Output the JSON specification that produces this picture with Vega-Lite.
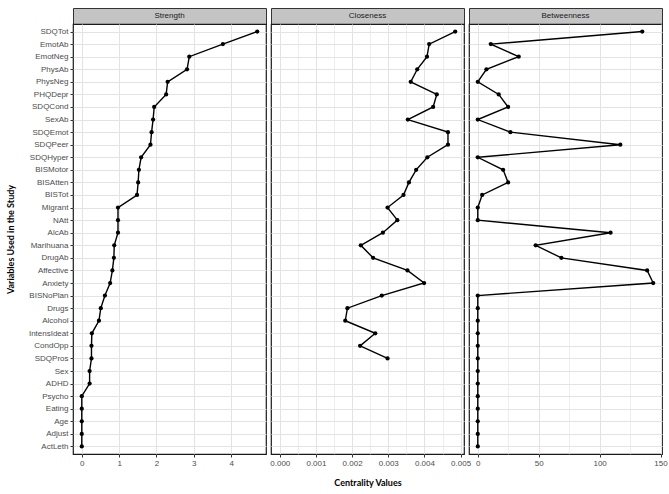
{
  "$schema": "https://vega.github.io/schema/vega-lite/v6.json",
  "background": "white",
  "padding": {"left": 5, "top": 7, "right": 0, "bottom": 5},
  "datasets": {
    "cent": [
      {"v": "SDQTot", "m": "Strength", "x": 4.70},
      {"v": "EmotAb", "m": "Strength", "x": 3.78},
      {"v": "EmotNeg", "m": "Strength", "x": 2.88},
      {"v": "PhysAb", "m": "Strength", "x": 2.82},
      {"v": "PhysNeg", "m": "Strength", "x": 2.30},
      {"v": "PHQDepr", "m": "Strength", "x": 2.26},
      {"v": "SDQCond", "m": "Strength", "x": 1.94},
      {"v": "SexAb", "m": "Strength", "x": 1.91},
      {"v": "SDQEmot", "m": "Strength", "x": 1.87},
      {"v": "SDQPeer", "m": "Strength", "x": 1.84},
      {"v": "SDQHyper", "m": "Strength", "x": 1.59},
      {"v": "BISMotor", "m": "Strength", "x": 1.53},
      {"v": "BISAtten", "m": "Strength", "x": 1.51},
      {"v": "BISTot", "m": "Strength", "x": 1.48},
      {"v": "Migrant", "m": "Strength", "x": 0.97},
      {"v": "NAtt", "m": "Strength", "x": 0.97},
      {"v": "AlcAb", "m": "Strength", "x": 0.97},
      {"v": "Marihuana", "m": "Strength", "x": 0.87},
      {"v": "DrugAb", "m": "Strength", "x": 0.86},
      {"v": "Affective", "m": "Strength", "x": 0.82},
      {"v": "Anxiety", "m": "Strength", "x": 0.76},
      {"v": "BISNoPlan", "m": "Strength", "x": 0.62},
      {"v": "Drugs", "m": "Strength", "x": 0.51},
      {"v": "Alcohol", "m": "Strength", "x": 0.46},
      {"v": "IntensIdeat", "m": "Strength", "x": 0.27},
      {"v": "CondOpp", "m": "Strength", "x": 0.26},
      {"v": "SDQPros", "m": "Strength", "x": 0.26},
      {"v": "Sex", "m": "Strength", "x": 0.21},
      {"v": "ADHD", "m": "Strength", "x": 0.21},
      {"v": "Psycho", "m": "Strength", "x": 0},
      {"v": "Eating", "m": "Strength", "x": 0},
      {"v": "Age", "m": "Strength", "x": 0},
      {"v": "Adjust", "m": "Strength", "x": 0},
      {"v": "ActLeth", "m": "Strength", "x": 0},
      {"v": "SDQTot", "m": "Closeness", "x": 0.00485},
      {"v": "EmotAb", "m": "Closeness", "x": 0.00413},
      {"v": "EmotNeg", "m": "Closeness", "x": 0.00407},
      {"v": "PhysAb", "m": "Closeness", "x": 0.00380},
      {"v": "PhysNeg", "m": "Closeness", "x": 0.00362},
      {"v": "PHQDepr", "m": "Closeness", "x": 0.00434},
      {"v": "SDQCond", "m": "Closeness", "x": 0.00424},
      {"v": "SexAb", "m": "Closeness", "x": 0.00354},
      {"v": "SDQEmot", "m": "Closeness", "x": 0.00465},
      {"v": "SDQPeer", "m": "Closeness", "x": 0.00465},
      {"v": "SDQHyper", "m": "Closeness", "x": 0.00408},
      {"v": "BISMotor", "m": "Closeness", "x": 0.00377},
      {"v": "BISAtten", "m": "Closeness", "x": 0.00357},
      {"v": "BISTot", "m": "Closeness", "x": 0.00342},
      {"v": "Migrant", "m": "Closeness", "x": 0.00298},
      {"v": "NAtt", "m": "Closeness", "x": 0.00325},
      {"v": "AlcAb", "m": "Closeness", "x": 0.00285},
      {"v": "Marihuana", "m": "Closeness", "x": 0.00224},
      {"v": "DrugAb", "m": "Closeness", "x": 0.00258},
      {"v": "Affective", "m": "Closeness", "x": 0.00353},
      {"v": "Anxiety", "m": "Closeness", "x": 0.00399},
      {"v": "BISNoPlan", "m": "Closeness", "x": 0.00282},
      {"v": "Drugs", "m": "Closeness", "x": 0.00187},
      {"v": "Alcohol", "m": "Closeness", "x": 0.00181},
      {"v": "IntensIdeat", "m": "Closeness", "x": 0.00264},
      {"v": "CondOpp", "m": "Closeness", "x": 0.00222},
      {"v": "SDQPros", "m": "Closeness", "x": 0.00298},
      {"v": "SDQTot", "m": "Betweenness", "x": 135},
      {"v": "EmotAb", "m": "Betweenness", "x": 10.7},
      {"v": "EmotNeg", "m": "Betweenness", "x": 33.6},
      {"v": "PhysAb", "m": "Betweenness", "x": 7.1},
      {"v": "PhysNeg", "m": "Betweenness", "x": 0},
      {"v": "PHQDepr", "m": "Betweenness", "x": 17.2},
      {"v": "SDQCond", "m": "Betweenness", "x": 24.9},
      {"v": "SexAb", "m": "Betweenness", "x": 0},
      {"v": "SDQEmot", "m": "Betweenness", "x": 26.8},
      {"v": "SDQPeer", "m": "Betweenness", "x": 117},
      {"v": "SDQHyper", "m": "Betweenness", "x": 0},
      {"v": "BISMotor", "m": "Betweenness", "x": 20.8},
      {"v": "BISAtten", "m": "Betweenness", "x": 24.9},
      {"v": "BISTot", "m": "Betweenness", "x": 3.6},
      {"v": "Migrant", "m": "Betweenness", "x": 0},
      {"v": "NAtt", "m": "Betweenness", "x": 0},
      {"v": "AlcAb", "m": "Betweenness", "x": 109},
      {"v": "Marihuana", "m": "Betweenness", "x": 47.5},
      {"v": "DrugAb", "m": "Betweenness", "x": 68.6},
      {"v": "Affective", "m": "Betweenness", "x": 139},
      {"v": "Anxiety", "m": "Betweenness", "x": 144},
      {"v": "BISNoPlan", "m": "Betweenness", "x": 0},
      {"v": "Drugs", "m": "Betweenness", "x": 0},
      {"v": "Alcohol", "m": "Betweenness", "x": 0},
      {"v": "IntensIdeat", "m": "Betweenness", "x": 0},
      {"v": "CondOpp", "m": "Betweenness", "x": 0},
      {"v": "SDQPros", "m": "Betweenness", "x": 0},
      {"v": "Sex", "m": "Betweenness", "x": 0},
      {"v": "ADHD", "m": "Betweenness", "x": 0},
      {"v": "Psycho", "m": "Betweenness", "x": 0},
      {"v": "Eating", "m": "Betweenness", "x": 0},
      {"v": "Age", "m": "Betweenness", "x": 0},
      {"v": "Adjust", "m": "Betweenness", "x": 0},
      {"v": "ActLeth", "m": "Betweenness", "x": 0}
    ]
  },
  "columns": 3,
  "spacing": {"row": 0, "column": 5},
  "bounds": "flush",
  "concat": [
    {
      "width": 193, "height": 16,
      "data": {"values": [{"p": "Strength"}]},
      "mark": {"type": "text", "font": "Liberation Sans", "fontSize": 8, "color": "#1a1a1a", "align": "center", "baseline": "middle"},
      "encoding": {"text": {"field": "p"}},
      "view": {"fill": "#c4c4c4", "stroke": "#333333", "strokeWidth": 1}
    },
    {
      "width": 193, "height": 16,
      "data": {"values": [{"p": "Closeness"}]},
      "mark": {"type": "text", "font": "Liberation Sans", "fontSize": 8, "color": "#1a1a1a", "align": "center", "baseline": "middle"},
      "encoding": {"text": {"field": "p"}},
      "view": {"fill": "#c4c4c4", "stroke": "#333333", "strokeWidth": 1}
    },
    {
      "width": 193, "height": 16,
      "data": {"values": [{"p": "Betweenness"}]},
      "mark": {"type": "text", "font": "Liberation Sans", "fontSize": 8, "color": "#1a1a1a", "align": "center", "baseline": "middle"},
      "encoding": {"text": {"field": "p"}},
      "view": {"fill": "#c4c4c4", "stroke": "#333333", "strokeWidth": 1}
    },
    {
      "width": 193, "height": 430,
      "data": {"name": "cent"},
      "transform": [{"filter": "datum.m === 'Strength'"}],
      "view": {"stroke": "#1a1a1a", "strokeWidth": 1.2},
      "encoding": {
        "y": {"field": "v", "type": "ordinal",
          "sort": ["SDQTot","EmotAb","EmotNeg","PhysAb","PhysNeg","PHQDepr","SDQCond","SexAb","SDQEmot","SDQPeer","SDQHyper","BISMotor","BISAtten","BISTot","Migrant","NAtt","AlcAb","Marihuana","DrugAb","Affective","Anxiety","BISNoPlan","Drugs","Alcohol","IntensIdeat","CondOpp","SDQPros","Sex","ADHD","Psycho","Eating","Age","Adjust","ActLeth"],
          "scale": {"type": "point", "padding": 0.6},
          "axis": {"title": "Variables Used in the Study", "titleFont": "Lato", "titleFontWeight": "bold", "titleFontSize": 9, "titleColor": "#000000", "titlePadding": 13,
            "labelFont": "Liberation Sans", "labelFontSize": 8, "labelColor": "#4d4d4d", "labelPadding": 2,
            "tickColor": "#333333", "tickSize": 3, "domain": false, "grid": true, "gridColor": "#e3e3e3", "gridWidth": 1}},
        "x": {"field": "x", "type": "quantitative",
          "scale": {"domain": [-0.235, 4.935], "nice": false, "zero": false},
          "axis": {"title": null, "values": [0, 0.5, 1, 1.5, 2, 2.5, 3, 3.5, 4, 4.5], "format": "d",
            "labelExpr": "datum.value % 1 === 0 ? datum.label : ''",
            "labelFont": "Liberation Sans", "labelFontSize": 8, "labelColor": "#4d4d4d", "labelPadding": 2,
            "tickColor": "#333333", "tickSize": 3,
            "tickOpacity": {"condition": {"test": "datum.value % 1 !== 0", "value": 0}, "value": 1},
            "gridWidth": {"condition": {"test": "datum.value % 1 !== 0", "value": 0.6}, "value": 1},
            "domain": false, "grid": true, "gridColor": "#e3e3e3"}}
      },
      "layer": [
        {"mark": {"type": "line", "color": "#000000", "strokeWidth": 1.4}},
        {"mark": {"type": "point", "filled": true, "color": "#000000", "opacity": 1, "size": 18}}
      ]
    },
    {
      "width": 193, "height": 430,
      "data": {"name": "cent"},
      "transform": [{"filter": "datum.m === 'Closeness'"}],
      "view": {"stroke": "#1a1a1a", "strokeWidth": 1.2},
      "encoding": {
        "y": {"field": "v", "type": "ordinal",
          "sort": ["SDQTot","EmotAb","EmotNeg","PhysAb","PhysNeg","PHQDepr","SDQCond","SexAb","SDQEmot","SDQPeer","SDQHyper","BISMotor","BISAtten","BISTot","Migrant","NAtt","AlcAb","Marihuana","DrugAb","Affective","Anxiety","BISNoPlan","Drugs","Alcohol","IntensIdeat","CondOpp","SDQPros","Sex","ADHD","Psycho","Eating","Age","Adjust","ActLeth"],
          "scale": {"type": "point", "padding": 0.6, "domain": ["SDQTot","EmotAb","EmotNeg","PhysAb","PhysNeg","PHQDepr","SDQCond","SexAb","SDQEmot","SDQPeer","SDQHyper","BISMotor","BISAtten","BISTot","Migrant","NAtt","AlcAb","Marihuana","DrugAb","Affective","Anxiety","BISNoPlan","Drugs","Alcohol","IntensIdeat","CondOpp","SDQPros","Sex","ADHD","Psycho","Eating","Age","Adjust","ActLeth"]},
          "axis": {"title": null, "labels": false, "ticks": false, "domain": false, "grid": true, "gridColor": "#e3e3e3", "gridWidth": 1}},
        "x": {"field": "x", "type": "quantitative",
          "scale": {"domain": [-0.000243, 0.005093], "nice": false, "zero": false},
          "axis": {"title": "Centrality Values", "titleFont": "Lato", "titleFontWeight": "bold", "titleFontSize": 9, "titleColor": "#000000", "titlePadding": 11,
            "values": [0, 0.0005, 0.001, 0.0015, 0.002, 0.0025, 0.003, 0.0035, 0.004, 0.0045, 0.005], "format": ".3f",
            "labelExpr": "round(datum.value * 10000) % 10 === 0 ? datum.label : ''",
            "labelFont": "Liberation Sans", "labelFontSize": 8, "labelColor": "#4d4d4d", "labelPadding": 2,
            "tickColor": "#333333", "tickSize": 3,
            "tickOpacity": {"condition": {"test": "round(datum.value * 10000) % 10 !== 0", "value": 0}, "value": 1},
            "gridWidth": {"condition": {"test": "round(datum.value * 10000) % 10 !== 0", "value": 0.6}, "value": 1},
            "domain": false, "grid": true, "gridColor": "#e3e3e3"}}
      },
      "layer": [
        {"mark": {"type": "line", "color": "#000000", "strokeWidth": 1.4}},
        {"mark": {"type": "point", "filled": true, "color": "#000000", "opacity": 1, "size": 18}}
      ]
    },
    {
      "width": 193, "height": 430,
      "data": {"name": "cent"},
      "transform": [{"filter": "datum.m === 'Betweenness'"}],
      "view": {"stroke": "#1a1a1a", "strokeWidth": 1.2},
      "encoding": {
        "y": {"field": "v", "type": "ordinal",
          "sort": ["SDQTot","EmotAb","EmotNeg","PhysAb","PhysNeg","PHQDepr","SDQCond","SexAb","SDQEmot","SDQPeer","SDQHyper","BISMotor","BISAtten","BISTot","Migrant","NAtt","AlcAb","Marihuana","DrugAb","Affective","Anxiety","BISNoPlan","Drugs","Alcohol","IntensIdeat","CondOpp","SDQPros","Sex","ADHD","Psycho","Eating","Age","Adjust","ActLeth"],
          "scale": {"type": "point", "padding": 0.6},
          "axis": {"title": null, "labels": false, "ticks": false, "domain": false, "grid": true, "gridColor": "#e3e3e3", "gridWidth": 1}},
        "x": {"field": "x", "type": "quantitative",
          "scale": {"domain": [-7.2, 151.2], "nice": false, "zero": false},
          "axis": {"title": null, "values": [0, 25, 50, 75, 100, 125, 150], "format": "d",
            "labelExpr": "datum.value % 50 === 0 ? datum.label : ''",
            "labelFont": "Liberation Sans", "labelFontSize": 8, "labelColor": "#4d4d4d", "labelPadding": 2,
            "tickColor": "#333333", "tickSize": 3,
            "tickOpacity": {"condition": {"test": "datum.value % 50 !== 0", "value": 0}, "value": 1},
            "gridWidth": {"condition": {"test": "datum.value % 50 !== 0", "value": 0.6}, "value": 1},
            "domain": false, "grid": true, "gridColor": "#e3e3e3"}}
      },
      "layer": [
        {"mark": {"type": "line", "color": "#000000", "strokeWidth": 1.4}},
        {"mark": {"type": "point", "filled": true, "color": "#000000", "opacity": 1, "size": 18}}
      ]
    }
  ]
}
